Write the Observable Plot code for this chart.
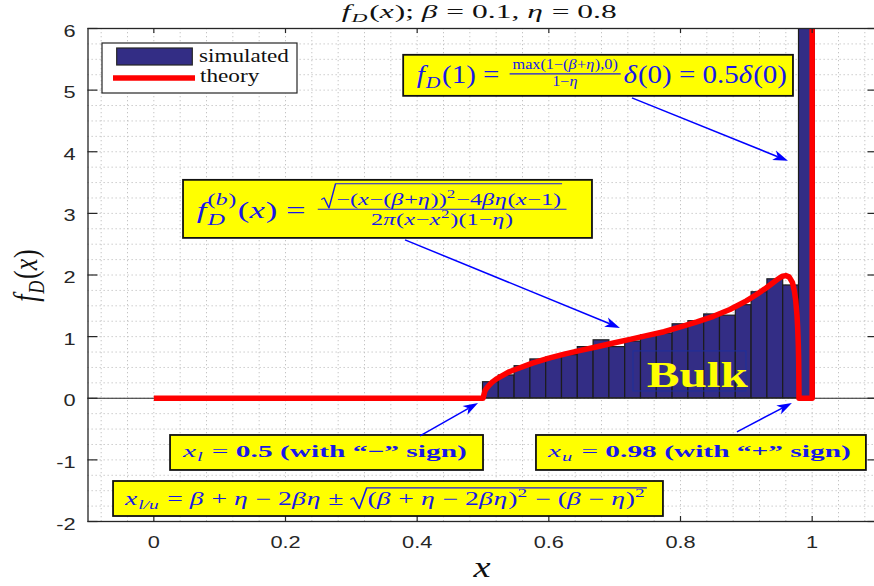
<!DOCTYPE html>
<html>
<head>
<meta charset="utf-8">
<script src="https://cdn.jsdelivr.net/npm/d3@7"></script>
<script src="https://cdn.jsdelivr.net/npm/@observablehq/plot@0.6"></script>
<style>
  html, body { margin: 0; padding: 0; background: white; }
  #chart svg { display: block; }
</style>
</head>
<body>
<div id="chart"></div>
<script>
// ---------------- data ----------------
const xTicks = [0, 0.2, 0.4, 0.6, 0.8, 1];
const xTickLabels = ["0", "0.2", "0.4", "0.6", "0.8", "1"];
const yTicks = [-2, -1, 0, 1, 2, 3, 4, 5, 6];
const yTickLabels = ["-2", "-1", "0", "1", "2", "3", "4", "5", "6"];

// histogram ("simulated") bin edges and heights
const histEdges = [0.500, 0.524, 0.548, 0.572, 0.596, 0.620, 0.644, 0.668, 0.692, 0.716, 0.740,
                   0.764, 0.788, 0.812, 0.836, 0.860, 0.884, 0.908, 0.932, 0.956, 0.980, 1.004];
const histHeights = [0.26, 0.37, 0.52, 0.63, 0.66, 0.70, 0.83, 0.94, 0.83, 0.92,
                     1.02, 1.05, 1.20, 1.25, 1.36, 1.34, 1.51, 1.72, 1.93, 1.83, 20.8];

// theory curve points
const theoryX = [0, 0.5, 0.503, 0.506, 0.51, 0.515, 0.52, 0.53, 0.54, 0.55, 0.575, 0.6, 0.625, 0.65,
                 0.675, 0.7, 0.725, 0.75, 0.775, 0.8, 0.825, 0.85, 0.875, 0.9, 0.915, 0.93, 0.94,
                 0.95, 0.955, 0.96, 0.965, 0.97, 0.973, 0.975, 0.977, 0.978, 0.979, 0.9795, 0.98, 1.0, 1.0];
const theoryY = [0, 0, 0.12, 0.17, 0.22, 0.27, 0.31, 0.37, 0.43, 0.47, 0.57, 0.65, 0.72, 0.78,
                 0.84, 0.90, 0.96, 1.02, 1.08, 1.16, 1.24, 1.33, 1.44, 1.58, 1.68, 1.79, 1.87,
                 1.95, 1.98, 1.99, 1.97, 1.88, 1.74, 1.59, 1.34, 1.14, 0.85, 0.61, 0, 0, 25];

// ---------------- derived tables ----------------
const bins = histHeights.map((h, i) => ({x1: histEdges[i], x2: histEdges[i + 1], h}));
const theory = theoryX.map((x, i) => ({x, y: theoryY[i]}));
const xMinor = d3.range(-2, 28).map(i => +(i * 0.04).toFixed(2));
const yMinor = d3.range(-8, 25).map(i => i * 0.25);

// ---------------- styles / layout ----------------
const W = 874, H = 586;
const mL = 87.5, mR = -3.5, mT = 28, mB = 65;
const frameW = W - mL - mR, frameH = H - mT - mB;
const SX = 1.28;                 // horizontal stretch of the original figure's text
const BAR_FILL = "#332d85";
const MATH = "'Liberation Serif', 'DejaVu Serif', serif";
const BLUE = "#1818e8";

const plot = Plot.plot({
  width: W, height: H,
  marginLeft: mL, marginRight: mR, marginTop: mT, marginBottom: mB,
  x: {domain: [-0.1, 1.1]},
  y: {domain: [-2, 6]},
  style: {fontFamily: "'Liberation Sans', Arial, sans-serif", fontSize: "17px", background: "white", overflow: "hidden", color: "#262626"},
  marks: [
    Plot.ruleX(xMinor, {stroke: "#c4c4c4", strokeWidth: 1, strokeDasharray: "1.3,2.7"}),
    Plot.ruleY(yMinor, {stroke: "#c4c4c4", strokeWidth: 1, strokeDasharray: "1.3,2.7"}),
    Plot.rect(bins, {x1: "x1", x2: "x2", y1: 0, y2: "h", fill: BAR_FILL, stroke: "#1c1c1c", strokeWidth: 1.2, clip: true}),
    Plot.ruleY([0], {stroke: "#262626", strokeWidth: 1}),
    Plot.line(theory, {x: "x", y: "y", stroke: "#ff0000", strokeWidth: 5.5, strokeLinejoin: "round", strokeLinecap: "butt", clip: true}),
    Plot.tickX(xTicks, {x: d => d, insetTop: frameH - 5, stroke: "#262626", strokeWidth: 1.2}),
    Plot.tickX(xTicks, {x: d => d, insetBottom: frameH - 5, stroke: "#262626", strokeWidth: 1.2}),
    Plot.tickY(yTicks, {y: d => d, insetRight: frameW - 10, stroke: "#262626", strokeWidth: 1.2}),
    Plot.tickY(yTicks, {y: d => d, insetLeft: frameW - 10, stroke: "#262626", strokeWidth: 1.2}),
    Plot.axisX(xTicks, {tickSize: 0, tickPadding: 14, label: null, fill: "#262626",
      tickFormat: d => xTickLabels[xTicks.indexOf(d)]}),
    Plot.axisY(yTicks, {tickSize: 0, tickPadding: 12.5, dy: 2.6, label: null, fill: "#262626",
      tickFormat: d => yTickLabels[yTicks.indexOf(d)]}),
    Plot.frame({stroke: "#262626", strokeWidth: 1.3})
  ]
});
document.getElementById("chart").append(plot);

// stretch the tick labels horizontally (keeps their anchor), like the original figure
plot.querySelectorAll('g[aria-label="x-axis tick label"] text, g[aria-label="y-axis tick label"] text').forEach(el => {
  const len = el.getComputedTextLength();
  if (len > 0) {
    el.setAttribute("textLength", len * SX);
    el.setAttribute("lengthAdjust", "spacingAndGlyphs");
  }
});

const sx = plot.scale("x").apply, sy = plot.scale("y").apply;
const svg = d3.select(plot);
const over = svg.append("g").attr("class", "overlay").attr("text-anchor", "start");

// ---------------- tiny math-text layout ----------------
function run(g, items, fs, x, y) {
  for (const it0 of items) {
    const it = typeof it0 === "string" ? {t: it0} : it0;
    if (it.t !== undefined) {
      const el = g.append("text").attr("x", x).attr("y", y).attr("font-size", fs)
        .attr("text-anchor", "start")
        .attr("font-style", it.i ? "italic" : "normal")
        .attr("font-weight", it.b ? "bold" : "normal")
        .attr("xml:space", "preserve").style("white-space", "pre").text(it.t);
      x += el.node().getComputedTextLength() + (it.i ? fs * 0.03 : 0);
    } else if (it.sub || it.sup) {
      const x0 = x; let w = 0;
      const s = it.s || 0.7;
      if (it.sub) w = Math.max(w, run(g, it.sub, fs * s, x0, y + fs * (it.subDy ?? 0.22)) - x0);
      if (it.sup) w = Math.max(w, run(g, it.sup, fs * s, x0, y - fs * (it.supDy ?? 0.42)) - x0);
      x = x0 + w + fs * 0.04;
    } else if (it.frac) {
      const f2 = fs * it.s;
      const gn = g.append("g"), gd = g.append("g");
      const wn = run(gn, it.frac[0], f2, 0, 0);
      const wd = run(gd, it.frac[1], f2, 0, 0);
      const pad = fs * 0.1;
      const w = Math.max(wn, wd) + 2 * pad;
      x += fs * 0.1;
      gn.attr("transform", `translate(${x + (w - wn) / 2},${y + fs * it.num})`);
      gd.attr("transform", `translate(${x + (w - wd) / 2},${y + fs * it.den})`);
      g.append("line").attr("x1", x).attr("x2", x + w)
        .attr("y1", y + fs * it.bar).attr("y2", y + fs * it.bar)
        .attr("stroke", "currentColor").attr("stroke-width", Math.max(1, fs * 0.045));
      x += w + fs * 0.1;
    } else if (it.sqrt) {
      const top = y - fs * (it.top ?? 0.95);
      const rw = fs * 0.62;
      const x1 = run(g, it.sqrt, fs, x + rw, y);
      g.append("path")
        .attr("d", `M${x},${y - fs * 0.3}L${x + fs * 0.12},${y - fs * 0.4}L${x + fs * 0.32},${y + fs * 0.2}L${x + rw - fs * 0.03},${top}L${x1 + fs * 0.04},${top}`)
        .attr("fill", "none").attr("stroke", "currentColor")
        .attr("stroke-width", Math.max(1, fs * 0.06)).attr("stroke-linejoin", "round");
      x = x1 + fs * 0.08;
    }
  }
  return x;
}
function formula(parent, items, o) {
  const g = parent.append("g").attr("font-family", o.font || MATH)
    .attr("fill", o.color).attr("color", o.color).attr("text-anchor", "start");
  const w = run(g, items, o.fs, 0, 0);
  let k = o.x1 !== undefined ? (o.x1 - o.x0) / w : SX;
  let tx = o.cx !== undefined ? o.cx - w * k / 2 : o.x0;
  g.attr("transform", `translate(${tx},${o.baseline}) scale(${k},1)`);
  return g;
}

const I = s => ({t: s, i: true});
const B = s => ({t: s, b: true});

// ---------------- annotations (positions in data units) ----------------
const boxes = [
  {x0: 0.3795, y0: 5.565, x1: 0.9716, y1: 4.899, tx0: 0.4001, tx1: 0.9625, base: 5.110, fs: 25,
   items: [I("f"), {sub: [I("D")]}, "(1) = ",
           {frac: [["max(1−(", I("β"), "+", I("η"), "),0)"], ["1−", I("η")]], s: 0.56, num: -0.54, den: 0.14, bar: -0.36},
           I("δ"), "(0) = 0.5", I("δ"), "(0)"]},
  {x0: 0.0451, y0: 3.536, x1: 0.6663, y1: 2.594, tx0: 0.0659, tx1: 0.6329, base: 2.919, fs: 24,
   items: [I("f"), {sub: [I("D")], sup: ["(", I("b"), ")"], subDy: 0.3, supDy: 0.55}, "(", I("x"), ") = ",
           {frac: [[{sqrt: ["−(", I("x"), "−(", I("β"), "+", I("η"), "))", {sup: ["2"]}, "−4", I("β"), I("η"), "(", I("x"), "−1)"], top: 1.25}],
                   ["2", I("π"), "(", I("x"), "−", I("x"), {sup: ["2"]}, ")(1−", I("η"), ")"]],
            s: 0.7, num: -0.55, den: 0.28, bar: -0.36}]},
  {x0: 0.0254, y0: -0.604, x1: 0.5008, y1: -1.172, tx0: 0.0451, tx1: 0.4764, base: -0.966, fs: 17,
   items: [I("x"), {sub: [I("l")]}, " = ", B("0.5 (with “−” sign)")]},
  {x0: -0.0612, y0: -1.351, x1: 0.7741, y1: -1.919, tx0: -0.0430, tx1: 0.7514, base: -1.740, fs: 18,
   items: [I("x"), {sub: [I("l/u")]}, " = ", I("β"), " + ", I("η"), " − 2", I("β"), I("η"), " ± ",
           {sqrt: ["(", I("β"), " + ", I("η"), " − 2", I("β"), I("η"), ")", {sup: ["2"]}, " − (", I("β"), " − ", I("η"), ")", {sup: ["2"]}], top: 0.95}]},
  {x0: 0.5812, y0: -0.604, x1: 1.0824, y1: -1.172, tx0: 0.5995, tx1: 1.0597, base: -0.966, fs: 17,
   items: [I("x"), {sub: [I("u")]}, " = ", B("0.98 (with “+” sign)")]}
];
const arrows = [
  {x1: 0.7270, y1: 4.867, x2: 0.9640, y2: 3.844},
  {x1: 0.3823, y1: 2.562, x2: 0.7088, y2: 1.133},
  {x1: 0.4051, y1: -0.620, x2: 0.4932, y2: -0.084},
  {x1: 0.8865, y1: -0.555, x2: 0.9700, y2: -0.084}
];
const bulk = {x0: 0.7286, y0: 0.760, x1: 0.9002, y1: 0.110, tx0: 0.7496, tx1: 0.9030, base: 0.180};

// Bulk label
over.append("rect").attr("x", sx(bulk.x0)).attr("y", sy(bulk.y0))
  .attr("width", sx(bulk.x1) - sx(bulk.x0)).attr("height", sy(bulk.y1) - sy(bulk.y0))
  .attr("fill", "none").attr("stroke", "#1d2f9c").attr("stroke-width", 1);
formula(over, [B("Bulk")], {fs: 35, color: "#ffff00", x0: sx(bulk.tx0), x1: sx(bulk.tx1), baseline: sy(bulk.base)});

// boxes
for (const b of boxes) {
  over.append("rect").attr("x", sx(b.x0)).attr("y", sy(b.y0))
    .attr("width", sx(b.x1) - sx(b.x0)).attr("height", sy(b.y1) - sy(b.y0))
    .attr("fill", "#ffff00").attr("stroke", "#111").attr("stroke-width", 1.8);
  formula(over, b.items, {fs: b.fs, color: BLUE, x0: sx(b.tx0), x1: sx(b.tx1), baseline: sy(b.base)});
}

// arrows
for (const a of arrows) {
  const X1 = sx(a.x1), Y1 = sy(a.y1), X2 = sx(a.x2), Y2 = sy(a.y2);
  const dx = X2 - X1, dy = Y2 - Y1, L = Math.hypot(dx, dy), ux = dx / L, uy = dy / L, px = -uy, py = ux;
  const hl = 15, hw = 5, notch = 4;
  const bx = X2 - ux * hl, by = Y2 - uy * hl;
  over.append("line").attr("x1", X1).attr("y1", Y1).attr("x2", bx + ux * notch).attr("y2", by + uy * notch)
    .attr("stroke", "#0000ff").attr("stroke-width", 1.5);
  over.append("path")
    .attr("d", `M${X2},${Y2}L${bx + px * hw},${by + py * hw}L${bx + ux * notch},${by + uy * notch}L${bx - px * hw},${by - py * hw}Z`)
    .attr("fill", "#0000ff");
}

// legend (offsets from the frame's top-left corner)
const lg = over.append("g").attr("transform", `translate(${mL},${mT})`);
lg.append("rect").attr("x", 14.5).attr("y", 15).attr("width", 195).attr("height", 50)
  .attr("fill", "white").attr("stroke", "#262626").attr("stroke-width", 1.2);
lg.append("rect").attr("x", 29.2).attr("y", 20).attr("width", 75.6).attr("height", 17)
  .attr("fill", BAR_FILL).attr("stroke", "#262626").attr("stroke-width", 1.2);
lg.append("line").attr("x1", 25.5).attr("x2", 107.5).attr("y1", 50).attr("y2", 50)
  .attr("stroke", "#ff0000").attr("stroke-width", 5.5);
formula(lg, ["simulated"], {fs: 18, color: "#111", x0: 111.5, x1: 201.5, baseline: 33.8});
formula(lg, ["theory"], {fs: 18, color: "#111", x0: 112.5, x1: 171.8, baseline: 53.7});

// title and axis labels
formula(over, [I("f"), {sub: [I("D")]}, "(", I("x"), "); ", I("β"), " = 0.1, ", I("η"), " = 0.8"],
  {fs: 19, color: "#111", x0: 341.7, x1: 616.7, baseline: 18.3});
formula(over, [I("x")], {fs: 30, color: "#111", cx: (sx(-0.1) + sx(1.1)) / 2, baseline: 577});

// y label: rotated, glyph heights stretched horizontally
{
  const g = over.append("g").attr("font-family", MATH).attr("fill", "#111").attr("color", "#111");
  const inner = g.append("g");
  const w = run(inner, [I("f"), {sub: [I("D")]}, "(", I("x"), ")"], 26, 0, 0);
  inner.attr("transform", `translate(${-w / 2},0)`);
  g.attr("transform", `translate(37,${(sy(-2) + sy(6)) / 2 + 1}) scale(${SX},1) rotate(-90)`);
}
</script>
</body>
</html>
